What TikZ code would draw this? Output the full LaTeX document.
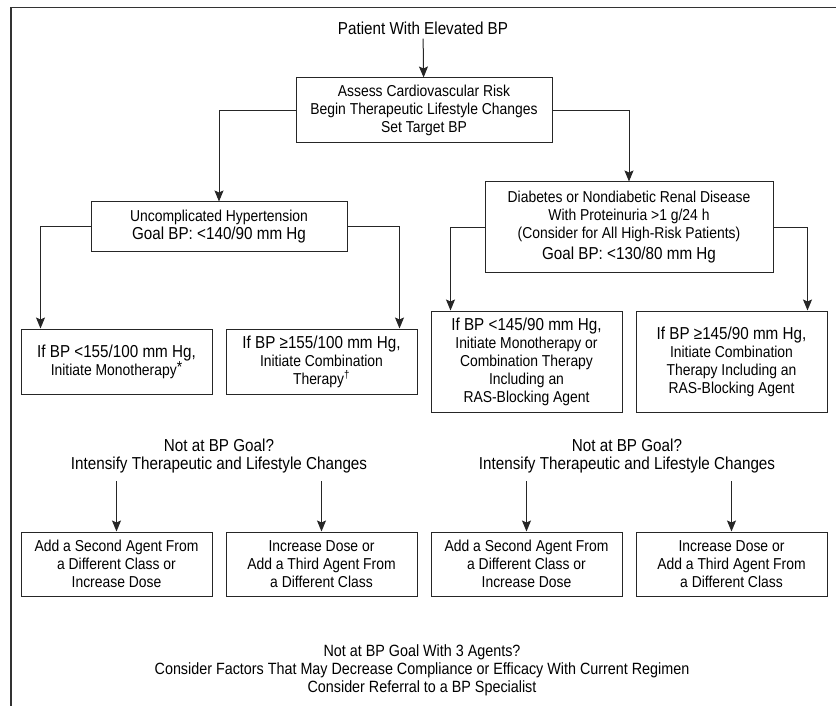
\documentclass[tikz,border=0pt]{standalone}
\usepackage{fontspec}
\setmainfont{Liberation Sans}[FakeStretch=0.88]
\usetikzlibrary{arrows.meta}
\newcommand\normsize{\fontsize{15.8}{18}\selectfont}
\newcommand\bigsize{\fontsize{17.3}{18}\selectfont}
\begin{document}
\begin{tikzpicture}[x=1pt,y=-1pt,
		box/.style={draw=black!85, line width=1pt, align=center, inner sep=0pt, font=\normsize, text=black},
		txt/.style={align=center, inner sep=0pt, font=\normsize, text=black},
		arr/.style={draw=black!85, line width=1pt, -{Stealth[length=11pt,width=9pt,inset=2pt]}},
		smallbox/.style={box, minimum width=191, minimum height=65}]
			\useasboundingbox (0,0) rectangle (836,706);
			\draw[black!80, line width=1.5pt] (11,706) -- (11,7.5) -- (836,7.5);
			
			\node[txt, font=\bigsize] (patient) at (423,28) {Patient With Elevated BP};
			\node[box, minimum width=256, minimum height=65] (assess) at (424,110.5) {Assess Cardiovascular Risk\\ Begin Therapeutic Lifestyle Changes\\ Set Target BP};
			
			\node[box, minimum width=256, minimum height=49] (uncomp) at (219,226.5) {Uncomplicated Hypertension\\ {\bigsize Goal BP: <140/90 mm Hg}};
			\node[box, minimum width=288, minimum height=90] (diab) at (629,227) {Diabetes or Nondiabetic Renal Disease\\ With Proteinuria >1 g/24 h\\ (Consider for All High-Risk Patients)\\[3pt] {\bigsize Goal BP: <130/80 mm Hg}};
			
			\node[smallbox] (mono) at (116.5,361.5) {{\bigsize If BP <155/100 mm Hg,}\\ Initiate Monotherapy\raisebox{3pt}{*}};
			\node[smallbox] (combo) at (321.5,361.5) {{\bigsize If BP ≥155/100 mm Hg,}\\ Initiate Combination\\ Therapy\textsuperscript{†}};
			\node[smallbox, minimum height=101] (dmono) at (526.5,361.5) {{\bigsize If BP <145/90 mm Hg,}\\ Initiate Monotherapy or\\ Combination Therapy\\ Including an\\ RAS-Blocking Agent};
			\node[smallbox, minimum height=101] (dcombo) at (731.5,361.5) {{\bigsize If BP ≥145/90 mm Hg,}\\ Initiate Combination\\ Therapy Including an\\ RAS-Blocking Agent};
			
			\node[txt, font=\bigsize] (notL) at (219,456) {Not at BP Goal?\\ Intensify Therapeutic and Lifestyle Changes};
			\node[txt, font=\bigsize] (notR) at (627,456) {Not at BP Goal?\\ Intensify Therapeutic and Lifestyle Changes};
			
			\node[smallbox, minimum height=64] (addL) at (116.5,564) {Add a Second Agent From\\ a Different Class or\\ Increase Dose};
			\node[smallbox, minimum height=64] (incL) at (321.5,564) {Increase Dose or\\ Add a Third Agent From\\ a Different Class};
			\node[smallbox, minimum height=64] (addR) at (526.5,564) {Add a Second Agent From\\ a Different Class or\\ Increase Dose};
			\node[smallbox, minimum height=64] (incR) at (731.5,564) {Increase Dose or\\ Add a Third Agent From\\ a Different Class};
			
			\node[txt, font=\fontsize{16.3}{18}\selectfont] (refer) at (422,670) {Not at BP Goal With 3 Agents?\\ Consider Factors That May Decrease Compliance or Efficacy With Current Regimen\\ Consider Referral to a BP Specialist};
			
			\draw[arr, shorten <=4pt] (patient) -- (assess);
			\draw[arr] (assess.west) -| (uncomp.north);
			\draw[arr] (assess.east) -| (diab.north);
			\draw[arr] (uncomp.west) -| ([xshift=20pt]mono.north west);
			\draw[arr] (uncomp.east) -| ([xshift=-18pt]combo.north east);
			\draw[arr] (diab.west) -| ([xshift=20pt]dmono.north west);
			\draw[arr] (diab.east) -| ([xshift=-20pt]dcombo.north east);
			
			\draw[arr, shorten <=8pt] (notL.south -| addL.north) -- (addL.north);
			\draw[arr, shorten <=8pt] (notL.south -| incL.north) -- (incL.north);
			\draw[arr, shorten <=8pt] (notR.south -| addR.north) -- (addR.north);
			\draw[arr, shorten <=8pt] (notR.south -| incR.north) -- (incR.north);
		\end{tikzpicture}
\end{document}
